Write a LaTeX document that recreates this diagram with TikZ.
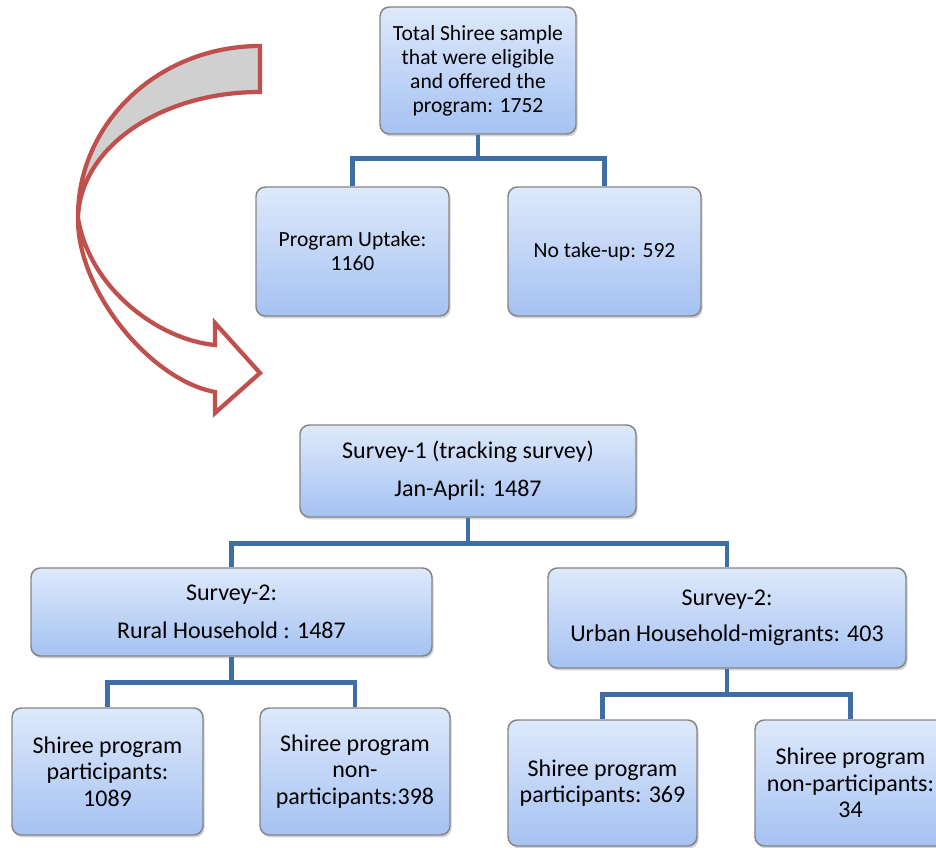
\documentclass[tikz,border=0pt]{standalone}
\usepackage{fontspec}
\setmainfont{Carlito}
\usetikzlibrary{shadows}
\definecolor{boxtop}{HTML}{DEE9FB}
\definecolor{boxbot}{HTML}{A5C2F2}
\definecolor{boxline}{HTML}{858585}
\definecolor{connc}{HTML}{3F6EA7}
\definecolor{arrowred}{HTML}{C0504D}
\definecolor{bandgray}{HTML}{D0D0D0}
\tikzset{
  box/.style={draw=boxline, line width=1.1pt, rounded corners=7pt,
    top color=boxtop, bottom color=boxbot, align=center,
    font=\fontsize{16.2}{18}\selectfont, inner sep=2pt,
    drop shadow={opacity=0.35, shadow xshift=1.2pt, shadow yshift=-1.8pt}},
  bigtext/.style={font=\fontsize{18}{20}\selectfont},
  conn/.style={draw=connc, line width=3.6pt},
  bigarrow/.style={draw=arrowred, line width=3.2pt, line join=miter}
}
\begin{document}
\begin{tikzpicture}[x=0.75pt,y=-0.75pt]
\useasboundingbox (0,0) rectangle (936,848);
% curved arrow
\path[bigarrow, fill=white] (78,218) .. controls (77,290) and (150,380) .. (215,392)
  -- (215,413) -- (260,373) -- (215,323) -- (215,345)
  .. controls (160,340) and (90,290) .. (78,218) -- cycle;
\path[bigarrow, fill=bandgray] (260,46) .. controls (159,46) and (77,123) .. (78,218)
  .. controls (80,147) and (161,92) .. (260,92) -- cycle;
% boxes
\node[box, minimum width=147pt, minimum height=95.25pt] (top) at (478,70.5)
  {Total Shiree sample\\that were eligible\\and offered the\\program: 1752};
\node[box, minimum width=144.75pt, minimum height=96.75pt] (up) at (352.5,251.5)
  {Program Uptake:\\1160};
\node[box, minimum width=144.75pt, minimum height=96.75pt] (no) at (604.5,251.5)
  {No take-up: 592};
\node[box, bigtext, minimum width=252pt, minimum height=69pt] (s1) at (468,471)
  {Survey-1 (tracking survey)\\[8.5pt]Jan-April: 1487};
\node[box, bigtext, minimum width=300.75pt, minimum height=66pt] (rural) at (231.5,612)
  {Survey-2:\\[8.5pt]Rural Household : 1487};
\node[box, bigtext, minimum width=268.5pt, minimum height=75pt] (urban) at (727,618)
  {Survey-2:\\[7pt]Urban Household-migrants: 403};
\node[box, bigtext, minimum width=143.25pt, minimum height=95.25pt] (rp) at (107.5,771.5)
  {Shiree program\\participants:\\1089};
\node[box, bigtext, minimum width=142.5pt, minimum height=95.25pt] (rn) at (355,771.5)
  {Shiree program\\non-\\participants:398};
\node[box, bigtext, minimum width=141.75pt, minimum height=94.5pt] (upp) at (602.5,783)
  {Shiree program\\participants: 369};
\node[box, bigtext, minimum width=143.25pt, minimum height=94.5pt] (unp) at (850.5,783)
  {Shiree program\\non-participants:\\34};
% connectors
\draw[conn] (top.south) -- ++(0,24) -| (up.north);
\draw[conn] (top.south) -- ++(0,24) -| (no.north);
\draw[conn] (s1.south) -- ++(0,26) -| (rural.north);
\draw[conn] (s1.south) -- ++(0,26) -| (urban.north);
\draw[conn] (rural.south) -- ++(0,26) -| (rp.north);
\draw[conn] (rural.south) -- ++(0,26) -| (rn.north);
\draw[conn] (urban.south) -- ++(0,26) -| (upp.north);
\draw[conn] (urban.south) -- ++(0,26) -| (unp.north);
\end{tikzpicture}
\end{document}
